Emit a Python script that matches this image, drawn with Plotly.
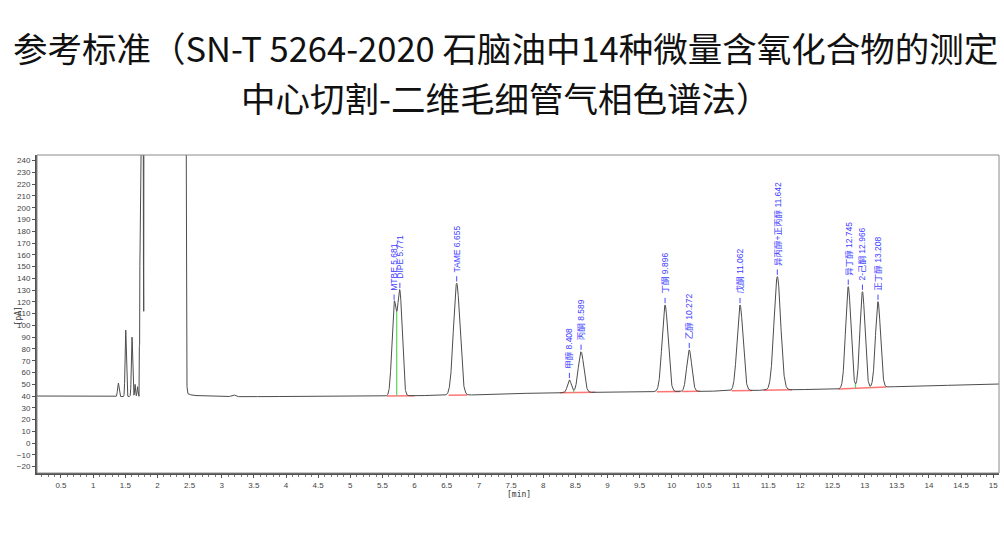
import numpy as np
import plotly.graph_objects as go

# ---- Baseline (time in min, signal in pA) ----
base_t = [0.127, 0.55, 0.58, 1.30, 2.60, 2.80, 3.00, 4.00, 5.00, 6.00, 7.00, 7.20,
          8.30, 9.50, 10.50, 11.70, 12.60, 13.50, 15.09]
base_v = [40.0, 40.0, 39.4, 39.4, 40.4, 40.0, 39.4, 39.6, 39.8, 40.3, 41.0, 41.8,
          42.8, 43.6, 44.0, 45.2, 46.0, 48.0, 50.2]

# ---- Labelled peaks ----
peak_names = ["MTBE", "DIPE", "TAME", "甲醇", "丙酮", "丁酮", "乙醇", "戊酮",
              "异丙醇+正丙醇", "异丁醇", "2-己酮", "正丁醇"]
peak_rt = [5.681, 5.771, 6.655, 8.408, 8.589, 9.896, 10.272, 11.062,
           11.642, 12.745, 12.966, 13.208]
peak_apex = [120.2, 130.2, 135.8, 53.7, 77.7, 117.4, 79.2, 117.4,
             141.5, 133.0, 128.7, 120.2]
peak_sigma = [0.034, 0.036, 0.050, 0.030, 0.043, 0.046, 0.039, 0.046,
              0.052, 0.041, 0.039, 0.039]

# ---- Unlabelled early peaks ----
early_rt = [1.392, 1.507, 1.605, 1.652, 1.690, 3.180]
early_apex = [51.0, 96.0, 90.0, 50.0, 48.0, 41.0]
early_sigma = [0.012, 0.010, 0.010, 0.007, 0.007, 0.030]

# ---- Solvent peak (off scale) ----
solvent_t = [1.714, 1.719, 1.723, 1.727, 1.731, 1.776, 1.783, 1.787, 1.792,
             2.440, 2.452, 2.460, 2.475, 2.520, 2.600]
solvent_v = [41.0, 82.0, 84.0, 150.0, 400.0, 400.0, 150.0, 112.0, 400.0,
             400.0, 70.0, 48.0, 42.0, 41.0, 40.4]

# ---- Integration windows ----
int_start = [5.57, 6.53, 8.26, 9.77, 10.16, 10.93, 11.43, 12.59]
int_end = [6.00, 6.82, 8.81, 10.13, 10.44, 11.25, 11.87, 13.34]

# ---- Peak-split positions (pairs of neighbouring peaks) ----
split_pairs = [(0, 1), (3, 4), (9, 10), (10, 11)]

# ---- Axis ranges ----
x_range = [0.127, 15.09]
y_range = [-25.4, 244.8]


def baseline(t):
    return np.interp(t, base_t, base_v)


all_rt = np.array(early_rt + peak_rt)
all_apex = np.array(early_apex + peak_apex)
all_sig = np.array(early_sigma + peak_sigma)

# amplitudes chosen so that each apex lands at its measured height
G = np.exp(-(all_rt[:, None] - all_rt[None, :]) ** 2 / (2 * all_sig[None, :] ** 2))
amp = np.linalg.solve(G, all_apex - baseline(all_rt))


def signal(t):
    t = np.asarray(t, dtype=float)
    s = baseline(t)
    for r, a, sg in zip(all_rt, amp, all_sig):
        s = s + a * np.exp(-(t - r) ** 2 / (2 * sg ** 2))
    return s


grid = np.arange(x_range[0], x_range[1], 0.002)
pre = grid[grid < solvent_t[0]]
post = grid[grid > solvent_t[-1]]
tx = np.concatenate([pre, solvent_t, post])
ty = np.concatenate([signal(pre), solvent_v, signal(post)])

fig = go.Figure()

# integration baselines
for a, b in zip(int_start, int_end):
    fig.add_trace(go.Scatter(
        x=[a, b], y=[baseline(a), baseline(b)], mode="lines",
        line=dict(color="rgba(255,70,70,0.75)", width=1.5),
        hoverinfo="skip", showlegend=False))

# chromatogram
fig.add_trace(go.Scatter(x=tx, y=ty, mode="lines",
                         line=dict(color="#4d4d4d", width=1),
                         showlegend=False))

# peak-split drop lines
for i, j in split_pairs:
    seg = np.arange(peak_rt[i], peak_rt[j], 0.001)
    vx = seg[np.argmin(signal(seg))]
    fig.add_trace(go.Scatter(
        x=[vx, vx], y=[baseline(vx), float(signal(vx))], mode="lines",
        line=dict(color="#5ad35a", width=1.2),
        hoverinfo="skip", showlegend=False))

# small blue markers just above each labelled apex
mk_x, mk_y = [], []
for r in peak_rt:
    top = float(signal(r))
    mk_x += [r, r, None]
    mk_y += [top + 1.5, top + 6.0, None]
fig.add_trace(go.Scatter(x=mk_x, y=mk_y, mode="lines",
                         line=dict(color="#4a4aff", width=1),
                         hoverinfo="skip", showlegend=False))

annotations = []
for name, r in zip(peak_names, peak_rt):
    annotations.append(dict(
        x=r, y=float(signal(r)), xref="x", yref="y",
        text=f"{name} {r:.3f}", textangle=-90,
        showarrow=False, xanchor="center", yanchor="bottom", yshift=9,
        font=dict(family="Liberation Sans, Noto Sans CJK SC", size=8.5, color="#4040ff")))

# axis unit labels
annotations.append(dict(x=-0.026, y=0.494, xref="paper", yref="paper",
                        text="[pA]", textangle=-90, showarrow=False,
                        font=dict(family="DejaVu Sans Mono", size=8, color="#333")))
annotations.append(dict(x=7.63, y=0, xref="x", yref="paper", yanchor="top",
                        yshift=-15, text="[min]", showarrow=False,
                        font=dict(family="DejaVu Sans Mono", size=8, color="#333")))

# title lines
title_font = dict(family="Noto Sans CJK SC", size=34.5, color="#111")
annotations.append(dict(x=0.4865, y=1.3396, xref="paper", yref="paper",
                        text="参考标准（SN-T 5264-2020 石脑油中14种微量含氧化合物的测定",
                        showarrow=False, font=title_font, yanchor="middle"))
annotations.append(dict(x=0.4865, y=1.1824, xref="paper", yref="paper",
                        text="中心切割-二维毛细管气相色谱法）",
                        showarrow=False, font=title_font, yanchor="middle"))

tick_font = dict(family="Liberation Sans", size=8, color="#444")

fig.update_layout(
    width=1004, height=540,
    margin=dict(l=37, r=5, t=155, b=67),
    paper_bgcolor="white", plot_bgcolor="white",
    annotations=annotations,
    shapes=[dict(type="rect", xref="paper", yref="paper", x0=0, y0=0, x1=1, y1=1,
                 line=dict(color="#8a8a8a", width=1))],
    xaxis=dict(range=x_range, tick0=0.5, dtick=0.5, ticks="outside", ticklen=3,
               tickcolor="#555", showgrid=False, zeroline=False,
               showline=True, linewidth=2, linecolor="#505050",
               tickfont=tick_font,
               minor=dict(dtick=0.1, ticks="outside", ticklen=2, tickcolor="#777")),
    yaxis=dict(range=y_range, tick0=0, dtick=10, ticks="outside", ticklen=3,
               tickcolor="#555", showgrid=False, zeroline=False,
               showline=True, linewidth=2, linecolor="#505050",
               tickfont=tick_font),
)

fig.write_html("out.html")
